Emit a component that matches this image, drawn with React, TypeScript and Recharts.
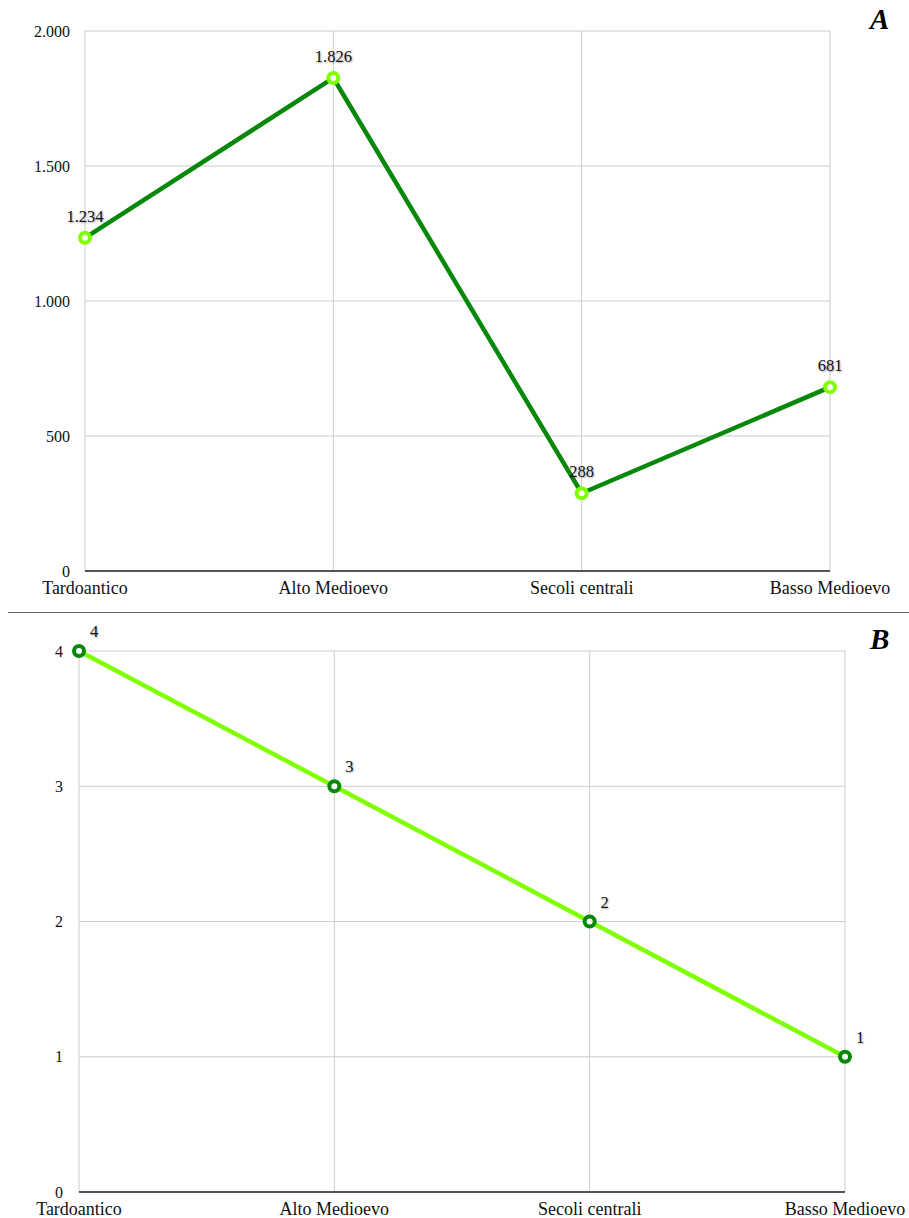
import { LineChart, Line, XAxis, YAxis, CartesianGrid, LabelList } from 'recharts'

// ─── Data ─────────────────────────────────────────────────────────────────────

const PERIODS = ['Tardoantico', 'Alto Medioevo', 'Secoli centrali', 'Basso Medioevo']

const VALUES_A = [1234, 1826, 288, 681]
const TICKS_A = [0, 500, 1000, 1500, 2000]

const VALUES_B = [4, 3, 2, 1]
const TICKS_B = [0, 1, 2, 3, 4]

// ─── Styling ──────────────────────────────────────────────────────────────────

const FONT = '"Liberation Serif", "Times New Roman", serif'
const DARK_GREEN = '#088808'
const LIME = '#80ff00'
const GRID = '#cccccc'
const AXIS = '#555555'

const dataA = PERIODS.map((period, i) => ({ period, value: VALUES_A[i] }))
const dataB = PERIODS.map((period, i) => ({ period, value: VALUES_B[i] }))

// Italian thousands separator
const fmt = (v: number) => String(v).replace(/\B(?=(\d{3})+(?!\d))/g, '.')

const tickStyle = { fontSize: 16, fill: '#111', fontFamily: FONT }
const xTickStyle = { fontSize: 18, fill: '#111', fontFamily: FONT }

const labelStyle = {
  fontSize: 16.5,
  fontFamily: FONT,
  fill: '#111',
  textShadow: '1px 1px 2px rgba(0,0,0,0.35)',
}

function LabelA(props: any) {
  const { x, y, value } = props
  return (
    <text x={x} y={y - 16} textAnchor="middle" style={labelStyle}>
      {fmt(value)}
    </text>
  )
}

function LabelB(props: any) {
  const { x, y, value } = props
  return (
    <text x={x + 15} y={y - 14} textAnchor="middle" style={labelStyle}>
      {value}
    </text>
  )
}

const panelLetter = (top: number): React.CSSProperties => ({
  position: 'absolute',
  left: 870,
  top,
  fontFamily: FONT,
  fontWeight: 'bold',
  fontStyle: 'italic',
  fontSize: 29,
  lineHeight: '29px',
  color: '#000',
})

// ─── App ──────────────────────────────────────────────────────────────────────

export default function App() {
  return (
    <div style={{ position: 'absolute', left: 0, top: 0, width: 909, height: 1218, background: '#fff' }}>
      <div style={{ position: 'absolute', left: 0, top: 0 }}>
        <LineChart width={909} height={612} data={dataA} margin={{ top: 31, right: 79, left: 0, bottom: 0 }}>
          <CartesianGrid stroke={GRID} strokeWidth={1} />
          <XAxis
            dataKey="period"
            height={41}
            tick={xTickStyle}
            tickLine={false}
            tickSize={6}
            tickMargin={4}
            axisLine={{ stroke: AXIS, strokeWidth: 2 }}
            interval={0}
          />
          <YAxis
            width={85}
            domain={[0, 2000]}
            ticks={TICKS_A}
            tickFormatter={fmt}
            tick={tickStyle}
            tickLine={false}
            axisLine={false}
            tickSize={6}
            tickMargin={9}
          />
          <Line
            dataKey="value"
            stroke={DARK_GREEN}
            strokeWidth={4.5}
            dot={{ r: 5, fill: '#fff', stroke: LIME, strokeWidth: 4 }}
            isAnimationActive={false}
          >
            <LabelList dataKey="value" content={<LabelA />} />
          </Line>
        </LineChart>
      </div>

      <div style={panelLetter(5)}>A</div>

      <div style={{ position: 'absolute', left: 8, right: 0, top: 612, height: 1, background: '#666' }} />

      <div style={{ position: 'absolute', left: 0, top: 614 }}>
        <LineChart width={909} height={604} data={dataB} margin={{ top: 37, right: 64, left: 0, bottom: 0 }}>
          <CartesianGrid stroke={GRID} strokeWidth={1} />
          <XAxis
            dataKey="period"
            height={26}
            tick={xTickStyle}
            tickLine={false}
            tickSize={6}
            tickMargin={4}
            axisLine={{ stroke: AXIS, strokeWidth: 2 }}
            interval={0}
          />
          <YAxis
            width={79}
            domain={[0, 4]}
            ticks={TICKS_B}
            tick={tickStyle}
            tickLine={false}
            axisLine={false}
            tickSize={6}
            tickMargin={10}
          />
          <Line
            dataKey="value"
            stroke={LIME}
            strokeWidth={4.5}
            dot={{ r: 5, fill: '#fff', stroke: DARK_GREEN, strokeWidth: 4 }}
            isAnimationActive={false}
          >
            <LabelList dataKey="value" content={<LabelB />} />
          </Line>
        </LineChart>
      </div>

      <div style={panelLetter(625)}>B</div>
    </div>
  )
}
